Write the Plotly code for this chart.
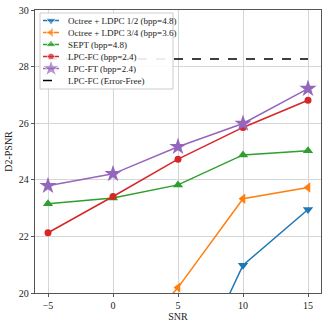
import plotly.graph_objects as go

# SNR values (dB)
snr = [-5, 0, 5, 10, 15]

# D2-PSNR per scheme (points below 20 fall outside the view)
octree_12 = [14.0, 15.0, 16.1, 20.98, 22.95]
octree_34 = [15.5, 17.6, 20.19, 23.33, 23.73]
sept = [23.15, 23.36, 23.82, 24.88, 25.03]
lpc_fc = [22.13, 23.41, 24.73, 25.85, 26.81]
lpc_ft = [23.79, 24.21, 25.17, 25.99, 27.22]
error_free = 28.27

names = ["Octree + LDPC 1/2 (bpp=4.8)", "Octree + LDPC 3/4 (bpp=3.6)",
         "SEPT (bpp=4.8)", "LPC-FC (bpp=2.4)", "LPC-FT (bpp=2.4)",
         "LPC-FC (Error-Free)"]

colors = ["#1f77b4", "#ff7f0e", "#2ca02c", "#d62728", "#9467bd"]
symbols = ["triangle-down", "triangle-left", "triangle-up", "circle", "star"]
msizes = [9, 9, 9, 7, 13]
series = [octree_12, octree_34, sept, lpc_fc, lpc_ft]

# plot area in pixels (figure 328x329)
L, R, T, B = 35, 321, 10, 293

fig = go.Figure()
for ys, name, c, s, ms in zip(series, names, colors, symbols, msizes):
    fig.add_trace(go.Scatter(
        x=snr, y=ys, name=name, mode="lines+markers",
        line=dict(color=c, width=1.5),
        marker=dict(symbol=s, size=ms, color=c),
        showlegend=False,
    ))

fig.add_trace(go.Scatter(
    x=[snr[0], snr[-1]], y=[error_free, error_free], name=names[5],
    mode="lines", line=dict(color="black", width=1.5, dash="dash"),
    showlegend=False,
))

# hand-drawn legend on a pixel-scaled overlay axis
fig.add_trace(go.Scatter(
    x=[40, 173, 173, 40, 40], y=[13, 13, 89, 89, 13], mode="lines",
    fill="toself", fillcolor="rgba(255,255,255,0.9)",
    line=dict(color="#cccccc", width=1), xaxis="x2", yaxis="y2",
    showlegend=False, hoverinfo="skip",
))
for i, name in enumerate(names):
    yy = 20.5 + 12 * i
    if i < 5:
        fig.add_trace(go.Scatter(
            x=[43, 51, 59], y=[yy, yy, yy], mode="lines+markers",
            line=dict(color=colors[i], width=1.5),
            marker=dict(symbol=symbols[i], color=colors[i],
                        size=[0, msizes[i], 0]),
            xaxis="x2", yaxis="y2", showlegend=False, hoverinfo="skip",
        ))
    else:
        fig.add_trace(go.Scatter(
            x=[43, 59], y=[yy, yy], mode="lines",
            line=dict(color="black", width=1.5, dash="dash"),
            xaxis="x2", yaxis="y2", showlegend=False, hoverinfo="skip",
        ))
    fig.add_annotation(x=66, y=yy, xref="x2", yref="y2", text=name,
                       showarrow=False, xanchor="left", yanchor="middle",
                       font=dict(family="Liberation Serif", size=9, color="#222"))

axis_common = dict(
    showgrid=True, gridcolor="#d6d6d6", gridwidth=1,
    showline=True, linecolor="#555555", linewidth=1.3, mirror=True,
    ticks="outside", ticklen=3, tickcolor="#555555",
    zeroline=False, tickfont=dict(size=10, color="#222"), automargin=False,
)

fig.update_layout(
    width=328, height=329,
    margin=dict(l=L, r=328 - R, t=T, b=329 - B),
    paper_bgcolor="white", plot_bgcolor="white",
    font=dict(family="Liberation Serif", size=10, color="#222"),
    showlegend=False,
    xaxis=dict(axis_common, range=[-6, 16], tickvals=snr,
               ticktext=["\u22125", "0", "5", "10", "15"],
               title=dict(text="SNR", standoff=2, font=dict(size=10))),
    yaxis=dict(axis_common, range=[20, 30], tickvals=[20, 22, 24, 26, 28, 30],
               title=dict(text="D2-PSNR", standoff=4, font=dict(size=10))),
    xaxis2=dict(overlaying="x", range=[L, R], visible=False),
    yaxis2=dict(overlaying="y", range=[B, T], visible=False),
)

fig.write_html("out.html", config={"displayModeBar": False},
               post_script="document.body.style.margin='0';")
